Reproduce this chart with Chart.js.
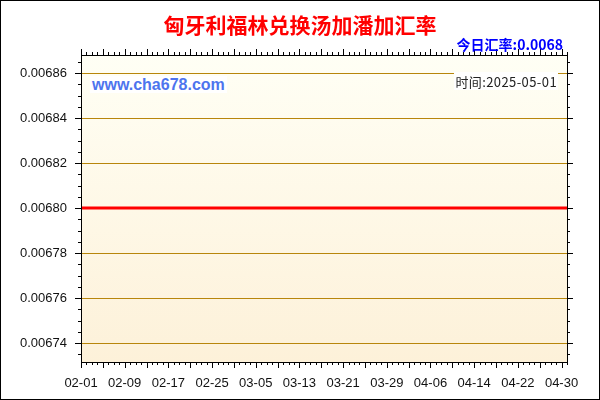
<!DOCTYPE html>
<html>
<head>
<meta charset="utf-8">
<script src="https://cdn.jsdelivr.net/npm/chart.js@4.4.1/dist/chart.umd.min.js"></script>
<style>
body { margin: 0; background: #fff; }
#wrap { position: relative; width: 600px; height: 400px; }
#title { position: absolute; left: 0; top: 9px; width: 600px; text-align: center; line-height: 27px;
  font: bold 21px "Noto Sans CJK SC"; color: #ff0000; }
#today { position: absolute; right: 37px; top: 34px; line-height: 18px;
  font: bold 14px "Noto Sans CJK SC"; color: #0000ff; }
#site { position: absolute; left: 90px; top: 76px; height: 17px; line-height: 17px; padding: 0 2px;
  background: #fff; font: bold 16px "Liberation Sans"; color: #4d74ee; }
#stamp { position: absolute; right: 42px; top: 72px; height: 18px; line-height: 18px; padding: 0 1px;
  background: #fff; font: 13px "Noto Sans CJK SC"; color: #222; letter-spacing: 0.4px; }
</style>
</head>
<body>
<div id="wrap">
  <canvas id="rate-chart" width="600" height="400"></canvas>
  <div id="title"></div>
  <div id="today"></div>
  <div id="site"></div>
  <div id="stamp"></div>
</div>
<script>
const titleText = "匈牙利福林兑换汤加潘加汇率";
const todayText = "今日汇率:0.0068";
const siteText = "www.cha678.com";
const stampText = "时间:2025-05-01";

// one point per day, 02-01 .. 05-01
const dates = [
  "02-01","02-02","02-03","02-04","02-05","02-06","02-07","02-08","02-09","02-10",
  "02-11","02-12","02-13","02-14","02-15","02-16","02-17","02-18","02-19","02-20",
  "02-21","02-22","02-23","02-24","02-25","02-26","02-27","02-28",
  "03-01","03-02","03-03","03-04","03-05","03-06","03-07","03-08","03-09","03-10",
  "03-11","03-12","03-13","03-14","03-15","03-16","03-17","03-18","03-19","03-20",
  "03-21","03-22","03-23","03-24","03-25","03-26","03-27","03-28","03-29","03-30","03-31",
  "04-01","04-02","04-03","04-04","04-05","04-06","04-07","04-08","04-09","04-10",
  "04-11","04-12","04-13","04-14","04-15","04-16","04-17","04-18","04-19","04-20",
  "04-21","04-22","04-23","04-24","04-25","04-26","04-27","04-28","04-29","04-30",
  "05-01"
];
const rates = [
  0.0068,0.0068,0.0068,0.0068,0.0068,0.0068,0.0068,0.0068,0.0068,0.0068,
  0.0068,0.0068,0.0068,0.0068,0.0068,0.0068,0.0068,0.0068,0.0068,0.0068,
  0.0068,0.0068,0.0068,0.0068,0.0068,0.0068,0.0068,0.0068,
  0.0068,0.0068,0.0068,0.0068,0.0068,0.0068,0.0068,0.0068,0.0068,0.0068,
  0.0068,0.0068,0.0068,0.0068,0.0068,0.0068,0.0068,0.0068,0.0068,0.0068,
  0.0068,0.0068,0.0068,0.0068,0.0068,0.0068,0.0068,0.0068,0.0068,0.0068,0.0068,
  0.0068,0.0068,0.0068,0.0068,0.0068,0.0068,0.0068,0.0068,0.0068,0.0068,
  0.0068,0.0068,0.0068,0.0068,0.0068,0.0068,0.0068,0.0068,0.0068,0.0068,
  0.0068,0.0068,0.0068,0.0068,0.0068,0.0068,0.0068,0.0068,0.0068,0.0068,
  0.0068
];
const yMin = 0.0067316;
const yMax = 0.006868;
const yStep = 0.00002;
const labelEvery = 8;

document.getElementById("title").innerText = titleText;
document.getElementById("today").innerText = todayText;
document.getElementById("site").innerText = siteText;
document.getElementById("stamp").innerText = stampText;

// background, tick marks and frame
const frame = {
  id: 'frame',
  beforeDraw(chart) {
    const ctx = chart.ctx, a = chart.chartArea;
    ctx.save();
    ctx.fillStyle = '#fff';
    ctx.fillRect(0, 0, chart.width, chart.height);
    var g = ctx.createLinearGradient(0, a.top, 0, a.bottom);
    g.addColorStop(0, '#fffff5');
    g.addColorStop(1, '#fdf1d9');
    ctx.fillStyle = g;
    ctx.fillRect(a.left, a.top, a.right - a.left, a.bottom - a.top);
    ctx.restore();
  },
  afterDraw(chart) {
    const ctx = chart.ctx, a = chart.chartArea;
    const xs = chart.scales.x, ys = chart.scales.y;
    ctx.save();
    ctx.strokeStyle = '#000';
    ctx.lineWidth = 1;
    ctx.beginPath();
    for (var i = 0; i < dates.length; i++) { // day ticks, longer every 4 days
      var px = Math.round(xs.getPixelForValue(i)) + 0.5;
      var len = (i % 4 == 0) ? 6 : 3;
      ctx.moveTo(px, a.bottom); ctx.lineTo(px, a.bottom + len);
      ctx.moveTo(px, a.top); ctx.lineTo(px, a.top - len);
    }
    var minor = yStep / 4;
    for (var k = Math.ceil(yMin / minor); k <= Math.floor(yMax / minor); k++) {
      var py = Math.round(ys.getPixelForValue(k * minor)) + 0.5;
      var l = (k % 4 == 0) ? 6 : 3;
      ctx.moveTo(a.left, py); ctx.lineTo(a.left - l, py);
      ctx.moveTo(a.right, py); ctx.lineTo(a.right + l, py);
    }
    ctx.stroke();
    ctx.strokeRect(Math.round(a.left) + 0.5, Math.round(a.top) + 0.5,
      Math.round(a.right - a.left), Math.round(a.bottom - a.top));
    ctx.strokeRect(0.5, 0.5, chart.width - 1, chart.height - 1);
    ctx.restore();
  }
};

new Chart(document.getElementById("rate-chart").getContext('2d'), {
  type: 'line',
  data: {
    labels: dates,
    datasets: [{
      data: rates,
      borderColor: '#ff0000',
      borderWidth: 3,
      pointRadius: 0,
      fill: false,
      tension: 0
    }]
  },
  options: {
    responsive: false,
    animation: false,
    layout: { padding: { left: 0, top: 55, right: 33, bottom: 0 } },
    plugins: { legend: { display: false }, tooltip: { enabled: false } },
    scales: {
      x: {
        offset: false,
        grid: { display: false },
        border: { display: false },
        ticks: {
          autoSkip: false,
          maxRotation: 0,
          padding: 6,
          color: '#111',
          font: { family: 'Liberation Sans', size: 13 },
          callback: function(v, i) { return i % labelEvery == 0 ? this.getLabelForValue(v) : null; }
        },
        afterFit: s => { s.height = 38; }
      },
      y: {
        min: yMin,
        max: yMax,
        grid: { color: '#b8860b', lineWidth: 1, drawTicks: false },
        border: { display: false },
        ticks: {
          stepSize: yStep,
          includeBounds: false,
          padding: 14,
          color: '#111',
          font: { family: 'Liberation Sans', size: 13 },
          callback: v => v.toFixed(5)
        },
        afterFit: s => { s.width = 81; }
      }
    }
  },
  plugins: [frame]
});
</script>
</body>
</html>
